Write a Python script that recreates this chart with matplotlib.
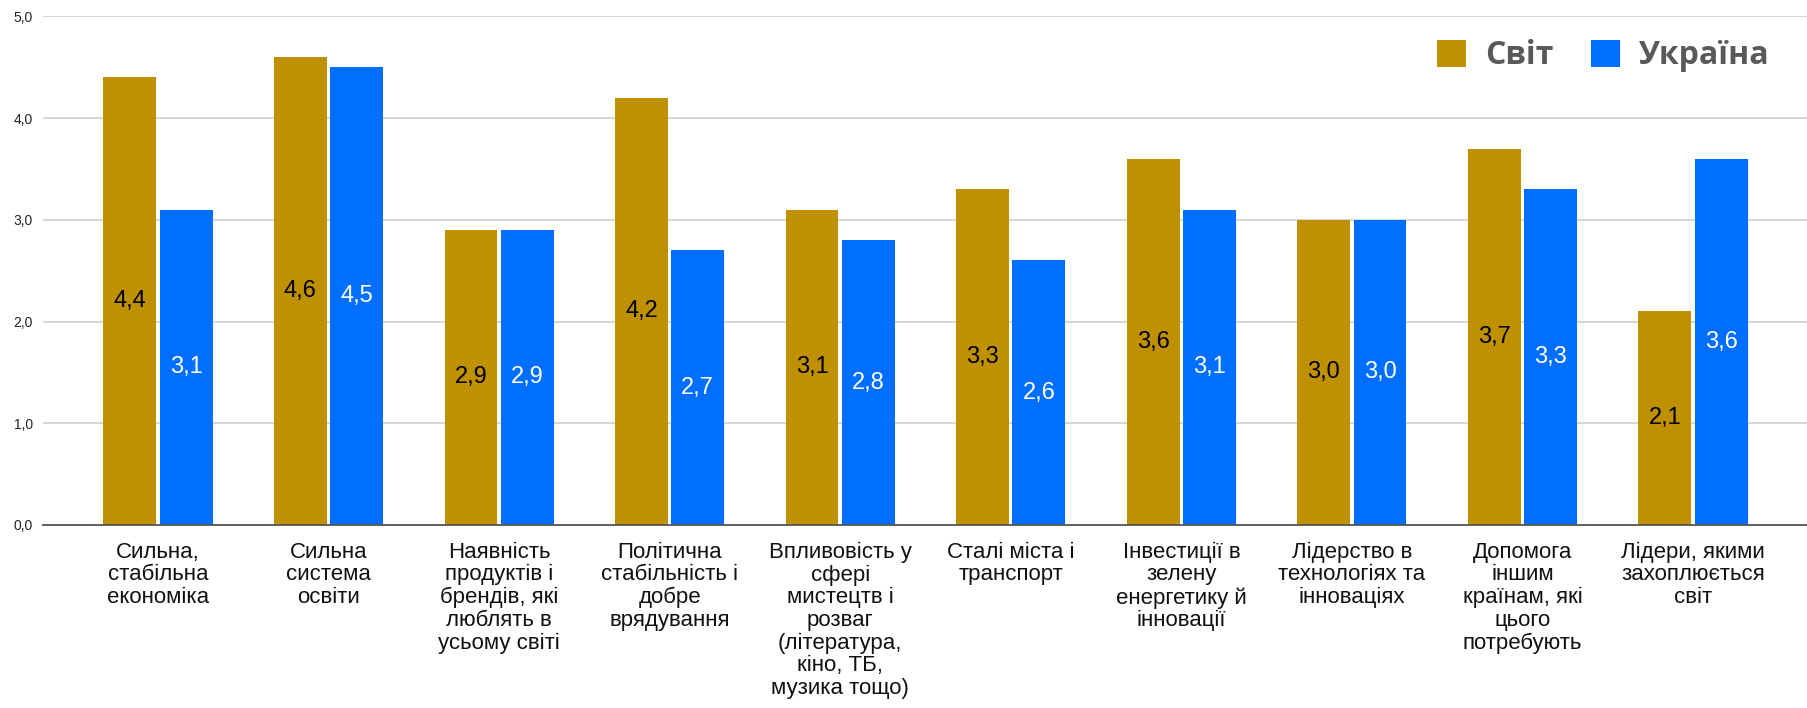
import matplotlib
matplotlib.use('Agg')
import matplotlib.pyplot as plt
import numpy as np

# данні
categories = [
    'Сильна,\nстабільна\nекономіка',
    'Сильна\nсистема\nосвіти',
    'Наявність\nпродуктів і\nбрендів, які\nлюблять в\nусьому світі',
    'Політична\nстабільність і\nдобре\nврядування',
    'Впливовість у\nсфері\nмистецтв і\nрозваг\n(література,\nкіно, ТБ,\nмузика тощо)',
    'Сталі міста і\nтранспорт',
    'Інвестиції в\nзелену\nенергетику й\nінновації',
    'Лідерство в\nтехнологіях та\nінноваціях',
    'Допомога\nіншим\nкраїнам, які\nцього\nпотребують',
    'Лідери, якими\nзахоплюється\nсвіт',
]
world = [4.4, 4.6, 2.9, 4.2, 3.1, 3.3, 3.6, 3.0, 3.7, 2.1]
ukraine = [3.1, 4.5, 2.9, 2.7, 2.8, 2.6, 3.1, 3.0, 3.3, 3.6]
series_names = ['Світ', 'Україна']
yticks = [0, 1, 2, 3, 4, 5]

gold = '#bf9000'
blue = '#006eff'

plt.rcParams['font.family'] = ['Liberation Sans', 'DejaVu Sans']

fig = plt.figure(figsize=(18.08, 7.08), dpi=100)
ax = fig.add_axes([0.0236, 0.2585, 0.976, 0.7185])

x = np.arange(len(categories))
bw = 0.31
off = 0.165
b1 = ax.bar(x - off, world, width=bw, color=gold, zorder=3, label=series_names[0])
b2 = ax.bar(x + off, ukraine, width=bw, color=blue, zorder=3, label=series_names[1])

def fmt(v):
    return f'{v:.1f}'.replace('.', ',')

# підписи значень посередині стовпців
for xi, v in zip(x, world):
    ax.text(xi - off, v / 2, fmt(v), ha='center', va='center', fontsize=17,
            color='black', zorder=4)
for xi, v in zip(x, ukraine):
    ax.text(xi + off, v / 2, fmt(v), ha='center', va='center', fontsize=17,
            color='white', zorder=4)

ax.set_xlim(-0.676, 9.67)
ax.set_ylim(0, 5)
ax.set_yticks(yticks)
ax.set_yticklabels([fmt(t) for t in yticks], fontsize=10, color='#222222')
ax.set_xticks(x)
ax.set_xticklabels(categories, fontsize=16, linespacing=1.1, color='#111111')
ax.tick_params(axis='both', length=0)
ax.tick_params(axis='y', pad=7)
ax.tick_params(axis='x', pad=12)

ax.grid(axis='y', color='#d0d0d0', linewidth=1.2, zorder=0)
for s in ['top', 'right', 'left']:
    ax.spines[s].set_visible(False)
ax.spines['bottom'].set_color('#555555')
ax.spines['bottom'].set_linewidth(1.3)
ax.spines['bottom'].set_zorder(5)

leg = fig.legend(handles=[b1, b2], labels=series_names, loc='center right',
                 bbox_to_anchor=(0.979, 0.921), ncol=2, frameon=False,
                 prop={'family': 'Open Sans', 'weight': 'bold', 'size': 23},
                 handlelength=0.9, handleheight=0.9, handletextpad=0.6,
                 columnspacing=1.2, borderpad=0, borderaxespad=0)
for t in leg.get_texts():
    t.set_color('#595959')

plt.savefig('out.png', dpi=100, facecolor='white')
